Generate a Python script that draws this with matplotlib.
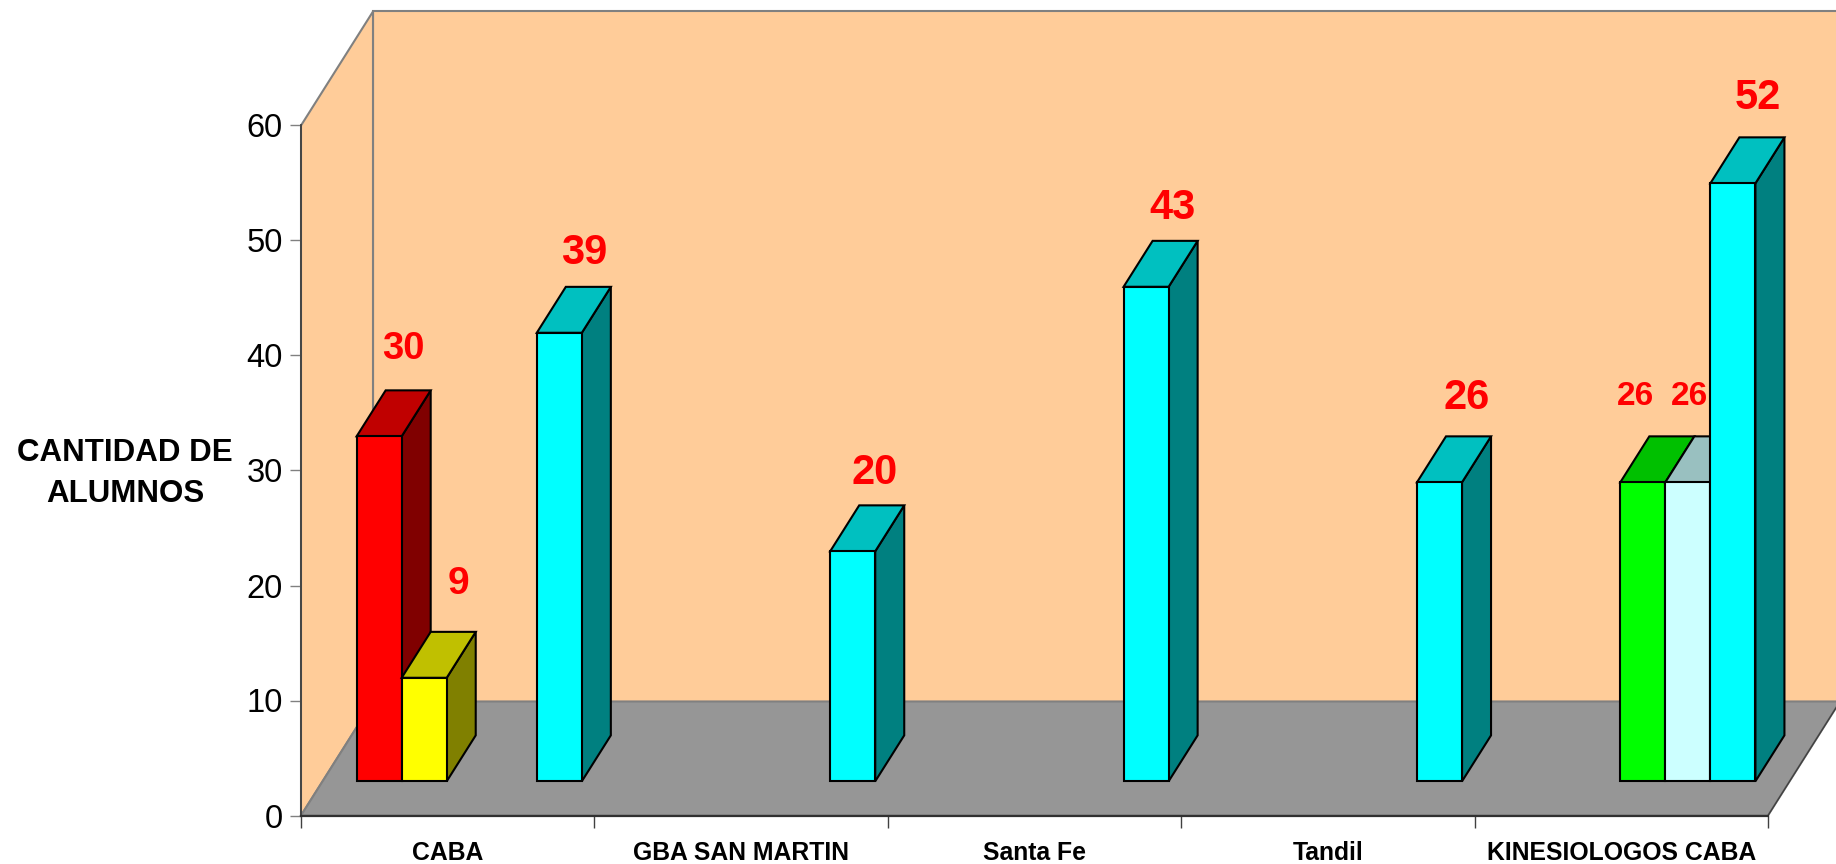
import matplotlib
matplotlib.use("Agg")
import matplotlib.pyplot as plt

# ==============================
# DATA
# ==============================

categories = ["CABA", "GBA SAN MARTIN", "Santa Fe", "Tandil", "KINESIOLOGOS CABA"]
y_ticks = [0, 10, 20, 30, 40, 50, 60]
y_title = "CANTIDAD DE\nALUMNOS"

red_values = [30, 0, 0, 0, 0]
yellow_values = [9, 0, 0, 0, 0]
green_values = [0, 0, 0, 0, 26]
pale_values = [0, 0, 0, 0, 26]
cyan_values = [39, 20, 43, 26, 52]

# ==============================
# STYLE
# ==============================

W, H = 1836, 864
LEFT, RIGHT, TOP, BOTTOM = 301, 1768, 125.5, 815.5  # front plane in pixels

WALL = "#FFCC99"
FLOOR = "#969696"
EDGE = "#808080"
DARK = "#404040"
FONT = "Liberation Sans"

# (front, top, side) colours per series
series = [
    (red_values, "#FF0000", "#C00000", "#800000"),
    (yellow_values, "#FFFF00", "#C0C000", "#808000"),
    (green_values, "#00FF00", "#00C000", "#008000"),
    (pale_values, "#CCFFFF", "#99C0C0", "#668080"),
    (cyan_values, "#00FFFF", "#00C0C0", "#008080"),
]

# depth of the box, in category units and in value units
DEPTH_X = 72 / ((RIGHT - LEFT) / 5)
DEPTH_Y = 114 / ((BOTTOM - TOP) / 60)
BAR_NEAR = 0.30  # share of the floor depth in front of the bars
BAR_FAR = 0.703
BAR_START = 0.116
BAR_W = 0.1535

# label offset from the top centre of the bar, pixels, and font size
label_style = {
    (0, 0): (24, 87, 27.5),
    (1, 0): (34, 94, 28),
    (2, 4): (-7, 86, 24),
    (3, 4): (2, 86, 24),
    (4, 0): (25, 80, 30),
    (4, 1): (22, 78, 30),
    (4, 2): (26, 79, 30),
    (4, 3): (27, 84, 30),
    (4, 4): (25, 85, 30),
}

# ==============================
# SETUP FIGURE
# ==============================

fig = plt.figure(figsize=(W / 100, H / 100), dpi=100, facecolor="white")
ax = fig.add_axes([LEFT / W, 1 - BOTTOM / H, (RIGHT - LEFT) / W, (BOTTOM - TOP) / H])
ax.set_xlim(0, len(categories))
ax.set_ylim(0, 60)
ax.patch.set_visible(False)


def at_depth(x, y, d):
    return x + d * DEPTH_X, y + d * DEPTH_Y


def face(points, color, edge="black", lw=1.5, zorder=3):
    ax.fill(*zip(*points), facecolor=color, edgecolor=edge, linewidth=lw,
            clip_on=False, zorder=zorder, joinstyle="miter")


# ==============================
# WALLS AND FLOOR
# ==============================

n = len(categories)
face([at_depth(0, 0, 1), at_depth(n, 0, 1), at_depth(n, 60, 1), at_depth(0, 60, 1)],
     WALL, edge=EDGE, lw=1.5, zorder=1)
face([(0, 0), at_depth(0, 0, 1), at_depth(0, 60, 1), (0, 60)], WALL, edge=EDGE, lw=1.5, zorder=1)
face([(0, 0), (n, 0), at_depth(n, 0, 1), at_depth(0, 0, 1)], FLOOR, edge=EDGE, lw=1.5, zorder=1.5)
ax.plot(*zip((n, 0), at_depth(n, 0, 1)), color=DARK, lw=1, clip_on=False, zorder=1.6)

# ==============================
# BARS
# ==============================

for c in range(n):
    for s, (values, front, top, side) in enumerate(series):
        v = values[c]
        if v == 0:
            continue
        x0 = c + BAR_START + s * BAR_W
        x1 = x0 + BAR_W
        near = lambda x, y: at_depth(x, y, BAR_NEAR)
        far = lambda x, y: at_depth(x, y, BAR_FAR)
        face([near(x1, 0), far(x1, 0), far(x1, v), near(x1, v)], side)
        face([near(x0, v), near(x1, v), far(x1, v), far(x0, v)], top)
        face([near(x0, 0), near(x1, 0), near(x1, v), near(x0, v)], front)

        dx, dy, size = label_style[(s, c)]
        ax.annotate(str(v), xy=near((x0 + x1) / 2, v), xytext=(dx, dy),
                    textcoords="offset pixels", ha="center", va="center",
                    color="#FF0000", fontsize=size, fontweight="bold",
                    family=FONT, zorder=5, annotation_clip=False)

# ==============================
# AXES
# ==============================

for name in ["top", "right"]:
    ax.spines[name].set_visible(False)
ax.spines["left"].set_color(DARK)
ax.spines["left"].set_linewidth(1.3)
ax.spines["bottom"].set_color("#303030")
ax.spines["bottom"].set_linewidth(1.6)

ax.set_yticks(y_ticks)
ax.set_yticklabels([str(t) for t in y_ticks], family=FONT, fontsize=23.5)
ax.tick_params(axis="y", length=8, width=1, color=EDGE, pad=5, labelcolor="black")

ax.set_xticks(range(n + 1))
ax.set_xticklabels([])
ax.tick_params(axis="x", which="major", length=8.5, width=1, color=DARK)
ax.set_xticks([i + 0.5 for i in range(n)], categories, minor=True,
              family=FONT, fontsize=17.8, fontweight="bold")
ax.tick_params(axis="x", which="minor", length=0, pad=18, labelcolor="black")

ax.set_ylabel(y_title, rotation=0, ha="center", va="center", family=FONT,
              fontsize=22.5, fontweight="bold", linespacing=1.45)
ax.yaxis.set_label_coords((125 - LEFT) / (RIGHT - LEFT), (BOTTOM - 473.5) / (BOTTOM - TOP))

fig.savefig("out.png", dpi=100)
